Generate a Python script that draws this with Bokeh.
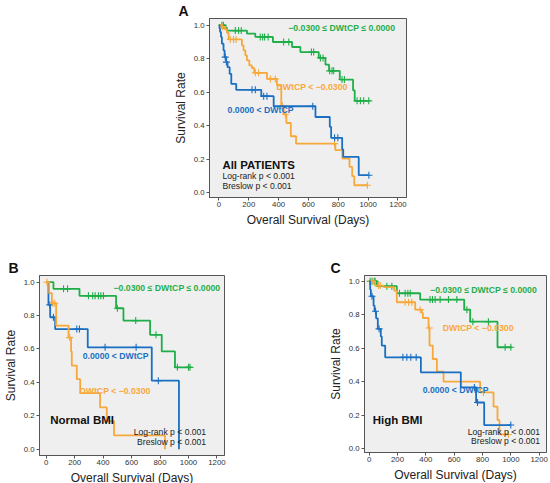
import numpy as np
from bokeh.plotting import figure
from bokeh.models import Range1d, FixedTicker, Label, Spacer
from bokeh.layouts import column, row
from bokeh.embed import file_html
from bokeh.resources import INLINE

FONT = "Liberation Sans"
GREEN = "#1fae48"
ORANGE = "#f7a83b"
BLUE = "#1a6fc2"

x_ticks = [0, 200, 400, 600, 800, 1000, 1200]
y_ticks = [0.0, 0.2, 0.4, 0.6, 0.8, 1.0]

# ---------- Panel A : All patients ----------
A_green_t = [42, 54, 188, 244, 362, 490, 546, 669, 714, 738, 810, 899, 910]
A_green_s = [0.985, 0.968, 0.95, 0.93, 0.90, 0.87, 0.84, 0.805, 0.765, 0.728, 0.676, 0.612, 0.549]
A_green_end = 1011
A_green_c = [20, 30, 110, 132, 150, 277, 293, 306, 330, 434, 468, 620, 635, 680, 698,
             742, 758, 769, 825, 841, 926, 948, 970, 1004]

A_orange_t = [18, 40, 54, 65, 154, 165, 177, 188, 204, 221, 237, 322, 389, 418, 434, 452,
              482, 517, 780, 827, 875, 893, 907]
A_orange_s = [0.99, 0.975, 0.955, 0.915, 0.88, 0.85, 0.82, 0.79, 0.76, 0.745, 0.716, 0.68,
              0.642, 0.52, 0.469, 0.417, 0.338, 0.294, 0.255, 0.205, 0.155, 0.10, 0.046]
A_orange_end = 995
A_orange_c = [25, 76, 98, 115, 244, 266, 345, 378, 425, 445, 775, 995]

A_blue_t = [4, 8, 14, 20, 31, 38, 49, 58, 72, 83, 116, 284, 367, 647, 743, 752, 826, 833, 937]
A_blue_s = [0.98, 0.96, 0.93, 0.89, 0.85, 0.81, 0.78, 0.75, 0.71, 0.65, 0.615, 0.577, 0.517,
            0.453, 0.394, 0.329, 0.26, 0.215, 0.106]
A_blue_end = 1005
A_blue_c = [42, 50, 222, 244, 300, 322, 629, 775, 797, 1005]

# ---------- Panel B : Normal BMI ----------
B_green_t = [51, 234, 491, 543, 730, 812, 905]
B_green_s = [0.96, 0.918, 0.844, 0.77, 0.685, 0.585, 0.49]
B_green_end = 1015
B_green_c = [122, 150, 297, 327, 344, 367, 384, 402, 500, 629, 772, 922, 1000, 1010]

B_blue_t = [16, 28, 63, 292, 742, 933]
B_blue_s = [0.864, 0.79, 0.719, 0.61, 0.41, 0.0]
B_blue_end = 933
B_blue_c = [25, 51, 215, 234, 414, 632, 788]

B_orange_t = [21, 40, 70, 157, 175, 180, 215, 239, 379, 426, 477, 835]
B_orange_s = [0.934, 0.874, 0.74, 0.668, 0.585, 0.50, 0.419, 0.335, 0.25, 0.168, 0.082, 0.0]
B_orange_end = 835
B_orange_c = [5, 47, 60, 165]

# ---------- Panel C : High BMI ----------
C_green_t = [54, 195, 360, 671, 713, 906]
C_green_s = [0.97, 0.928, 0.89, 0.83, 0.758, 0.605]
C_green_end = 1007
C_green_c = [7, 20, 35, 42, 125, 160, 214, 254, 273, 290, 430, 447, 466, 501, 560, 619,
             690, 732, 842, 960, 1000]

C_orange_t = [42, 101, 176, 195, 325, 372, 379, 419, 426, 449, 478, 525, 783, 878, 906, 920]
C_orange_s = [0.974, 0.965, 0.944, 0.874, 0.83, 0.81, 0.78, 0.72, 0.615, 0.535, 0.46, 0.40,
              0.335, 0.25, 0.17, 0.084]
C_orange_end = 983
C_orange_c = [19, 66, 78, 254, 278, 301, 360, 424, 807, 983]

C_blue_t = [7, 12, 31, 38, 49, 61, 82, 89, 113, 365, 647, 755, 812]
C_blue_s = [0.95, 0.91, 0.854, 0.82, 0.778, 0.715, 0.67, 0.615, 0.545, 0.455, 0.365, 0.275, 0.14]
C_blue_end = 1000
C_blue_c = [20, 45, 70, 238, 266, 294, 332, 743, 765, 1000]

LBL_GREEN = "\u22120.0300 \u2264 DWtCP \u2264 0.0000"
LBL_ORANGE = "DWtCP < \u22120.0300"
LBL_BLUE = "0.0000 < DWtCP"


def surv_at(times, survs, t):
    idx = np.searchsorted(np.asarray(times), t, side="right")
    s = [1.0] + list(survs)
    return s[idx]


def km(p, times, survs, end, cens, color):
    xs = [0] + list(times) + [end]
    ys = [1.0] + list(survs) + [survs[-1]]
    p.step(xs, ys, mode="after", line_color=color, line_width=1.8)
    cy = [surv_at(times, survs, c) for c in cens]
    p.scatter(cens, cy, marker="cross", size=7, line_color=color, line_width=1.1)


def make_fig(letter, offset, xr, yr, fw, fh, bl, br, bt, bb):
    p = figure(frame_width=fw, frame_height=fh, x_range=Range1d(*xr), y_range=Range1d(*yr),
               output_backend="svg", toolbar_location=None,
               min_border_left=bl, min_border_right=br, min_border_top=bt, min_border_bottom=bb)
    p.title.text = letter
    p.title.text_font = FONT
    p.title.text_font_size = "14px"
    p.title.text_font_style = "bold"
    p.title.text_color = "#111111"
    p.title.align = "left"
    p.title.offset = offset
    p.title.standoff = 0
    p.background_fill_color = "#efefef"
    p.border_fill_color = "white"
    p.outline_line_color = "#555555"
    p.outline_line_width = 1
    p.grid.visible = False
    for ax in (p.xaxis[0], p.yaxis[0]):
        ax.axis_line_color = "#555555"
        ax.major_tick_line_color = "#555555"
        ax.major_tick_out = 3
        ax.major_tick_in = 0
        ax.minor_tick_line_color = None
        ax.major_label_text_font = FONT
        ax.major_label_text_font_size = "7.8px"
        ax.major_label_text_color = "#333333"
        ax.axis_label_text_font = FONT
        ax.axis_label_text_font_size = "12px"
        ax.axis_label_text_font_style = "normal"
        ax.axis_label_text_color = "#222222"
    p.xaxis.major_label_standoff = 1
    p.yaxis.major_label_standoff = 2
    p.xaxis.axis_label_standoff = 3
    p.yaxis.axis_label_standoff = 3
    p.xaxis.ticker = FixedTicker(ticks=x_ticks)
    p.yaxis.ticker = FixedTicker(ticks=y_ticks)
    p.yaxis.major_label_overrides = {t: "%.1f" % t for t in y_ticks}
    p.xaxis.axis_label = "Overall Survival (Days)"
    p.yaxis.axis_label = "Survival Rate"
    return p


def lab(p, x, y, text, color="#111111", size="8.7px", bold=True, align="left"):
    p.add_layout(Label(x=x, y=y, text=text, text_color=color, text_font=FONT,
                       text_font_size=size, text_font_style="bold" if bold else "normal",
                       text_align=align, text_baseline="middle"))


# Panel A
pA = make_fig("A", -31, (-63, 1257), (-0.027, 1.04), 197, 179, 49, 5, 18, 58)
km(pA, A_green_t, A_green_s, A_green_end, A_green_c, GREEN)
km(pA, A_orange_t, A_orange_s, A_orange_end, A_orange_c, ORANGE)
km(pA, A_blue_t, A_blue_s, A_blue_end, A_blue_c, BLUE)
lab(pA, 465, 0.982, LBL_GREEN, GREEN)
lab(pA, 386, 0.632, LBL_ORANGE, ORANGE)
lab(pA, 58, 0.493, LBL_BLUE, BLUE)
lab(pA, 24, 0.169, "All PATIENTS", "#111111", "11.4px")
lab(pA, 24, 0.10, "Log-rank p < 0.001", "#222222", "8.6px", bold=False)
lab(pA, 24, 0.04, "Breslow p < 0.001", "#222222", "8.6px", bold=False)

# Panel B
pB = make_fig("B", -31, (-47, 1253), (-0.038, 1.040), 185, 180, 36, 99, 18, 29)
km(pB, B_green_t, B_green_s, B_green_end, B_green_c, GREEN)
km(pB, B_blue_t, B_blue_s, B_blue_end, B_blue_c, BLUE)
km(pB, B_orange_t, B_orange_s, B_orange_end, B_orange_c, ORANGE)
lab(pB, 473, 0.964, LBL_GREEN, GREEN)
lab(pB, 257, 0.555, LBL_BLUE, BLUE)
lab(pB, 234, 0.35, LBL_ORANGE, ORANGE)
lab(pB, 28, 0.172, "Normal BMI", "#111111", "11.5px")
lab(pB, 1124, 0.10, "Log-rank p < 0.001", "#222222", "8.6px", bold=False, align="right")
lab(pB, 1124, 0.042, "Breslow p < 0.001", "#222222", "8.6px", bold=False, align="right")

# Panel C
pC = make_fig("C", -34, (-33, 1252), (-0.024, 1.034), 182, 177, 41, 7, 20, 31)
km(pC, C_green_t, C_green_s, C_green_end, C_green_c, GREEN)
km(pC, C_orange_t, C_orange_s, C_orange_end, C_orange_c, ORANGE)
km(pC, C_blue_t, C_blue_s, C_blue_end, C_blue_c, BLUE)
lab(pC, 430, 0.948, LBL_GREEN, GREEN)
lab(pC, 519, 0.718, LBL_ORANGE, ORANGE)
lab(pC, 378, 0.35, LBL_BLUE, BLUE)
lab(pC, 25, 0.172, "High BMI", "#111111", "11.5px")
lab(pC, 1207, 0.10, "Log-rank p < 0.001", "#222222", "8.6px", bold=False, align="right")
lab(pC, 1207, 0.042, "Breslow p < 0.001", "#222222", "8.6px", bold=False, align="right")

layout = column(row(Spacer(width=160, height=10), pA), row(pB, pC))
open("out.html", "w").write(file_html(layout, INLINE))
